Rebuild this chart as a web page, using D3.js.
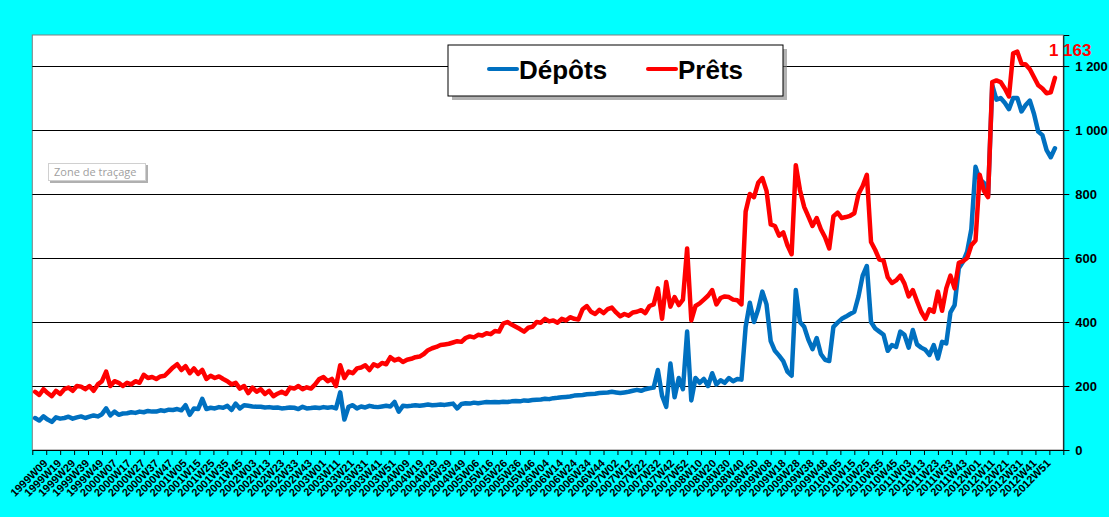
<!DOCTYPE html>
<html>
<head>
<meta charset="utf-8">
<script src="https://cdn.jsdelivr.net/npm/d3@7"></script>
<style>
body { margin: 0; background: #00ffff; }
svg { display: block; font-family: "Liberation Sans", Arial, sans-serif; }
</style>
</head>
<body>
<svg id="chart"></svg>
<script>
var screen = {width: 1109, height: 517};
var plot = {left: 32.3, right: 1063.3, top: 35, bottom: 450};

// week labels shown every 10 weeks (week index 10, 20, ... 730)
var tickLabels = [
  "1999W09","1999W19","1999W29","1999W39","1999W49",
  "2000W07","2000W17","2000W27","2000W37","2000W47",
  "2001W05","2001W15","2001W25","2001W35","2001W45",
  "2002W03","2002W13","2002W23","2002W33","2002W43",
  "2003W01","2003W11","2003W21","2003W31","2003W41","2003W51",
  "2004W09","2004W19","2004W29","2004W39","2004W49",
  "2005W06","2005W16","2005W26","2005W36","2005W46",
  "2006W04","2006W14","2006W24","2006W34","2006W44",
  "2007W02","2007W12","2007W22","2007W32","2007W42","2007W52",
  "2008W10","2008W20","2008W30","2008W40","2008W50",
  "2009W08","2009W18","2009W28","2009W38","2009W48",
  "2010W05","2010W15","2010W25","2010W35","2010W45",
  "2011W03","2011W13","2011W23","2011W33","2011W43",
  "2012W01","2012W11","2012W21","2012W31","2012W41","2012W51"
];
var weekCount = 740;     // axis length in weeks (from 1998W52)
var firstWeek = 2;       // week index of first value
var weekStep = 3;        // values read every 3 weeks

var seriesNames = ["Dépôts", "Prêts"];

var depots = [
  100,92,105,95,88,102,98,100,104,98,
  102,105,100,104,108,105,112,130,108,120,
  110,114,115,118,116,120,118,122,120,120,
  124,122,126,125,128,124,140,110,130,128,
  160,128,132,130,134,132,138,125,145,130,
  140,138,136,135,135,133,134,132,133,130,
  131,133,132,128,135,130,131,133,131,134,
  132,134,130,180,95,135,140,130,136,133,
  138,135,134,136,138,136,150,120,138,137,
  138,140,138,140,142,140,141,142,141,143,
  145,130,144,146,145,148,146,148,150,149,
  150,149,151,150,152,153,152,155,154,156,
  157,158,160,159,162,163,165,166,167,170,
  171,172,174,175,176,178,179,180,182,180,
  178,180,182,185,188,185,190,193,195,250,
  170,135,270,165,225,190,370,155,225,210,
  222,200,240,205,218,210,225,215,222,220,
  385,460,400,440,495,455,340,310,295,278,
  245,232,500,400,385,345,315,350,300,282,
  278,385,398,410,417,425,432,480,545,575,
  400,380,370,360,310,328,322,370,360,320,
  375,330,320,313,297,328,286,338,333,430,
  453,568,588,620,690,885,845,835,795,1140,
  1095,1100,1085,1065,1100,1100,1058,1078,1092,1050,
  995,984,937,915,943
];

var prets = [
  182,172,190,178,168,185,175,190,195,185,
  200,198,190,200,185,205,215,245,200,215,
  210,200,210,205,215,210,235,225,228,222,
  230,232,245,258,268,250,262,240,255,238,
  250,222,232,225,230,222,215,205,210,192,
  200,178,195,182,190,175,185,168,176,182,
  175,195,192,200,190,196,192,205,222,228,
  215,222,200,265,225,245,240,255,258,265,
  250,268,262,272,268,290,280,285,275,282,
  285,290,292,300,312,318,322,328,330,332,
  336,340,338,350,355,352,360,358,365,362,
  372,370,395,400,392,385,378,370,382,385,
  400,398,410,402,405,398,410,405,415,410,
  408,440,450,432,425,438,428,440,445,430,
  418,425,420,430,432,437,428,450,455,505,
  410,525,448,478,453,470,630,405,450,458,
  470,482,500,455,475,480,478,470,468,455,
  745,800,790,835,850,810,705,700,670,680,
  640,612,890,812,760,730,700,725,690,665,
  630,730,742,725,728,732,740,800,825,860,
  650,625,595,592,540,522,530,545,520,480,
  500,465,432,410,440,432,495,435,505,545,
  505,585,590,600,640,655,860,810,790,1150,
  1155,1150,1130,1105,1240,1245,1208,1205,1190,1165,
  1140,1130,1115,1118,1163
];

var yTicks = [0, 200, 400, 600, 800, 1000, 1200];
var yMax = 1297;
var colors = ["#0070c0", "#ff0000"];

var fr = d3.formatLocale({decimal: ",", thousands: " ", grouping: [3], currency: ["", " €"]});
var fmt = fr.format(",");

var svg = d3.select("#chart")
    .attr("width", screen.width)
    .attr("height", screen.height);

svg.append("rect")
    .attr("width", screen.width).attr("height", screen.height)
    .attr("fill", "#00ffff");

var xScale = d3.scaleLinear().domain([0, weekCount]).range([plot.left, plot.right]);
var yScale = d3.scaleLinear().domain([0, yMax]).range([plot.bottom, plot.top]);

// plot area
svg.append("rect")
    .attr("x", plot.left).attr("y", plot.top)
    .attr("width", plot.right - plot.left)
    .attr("height", plot.bottom - plot.top)
    .attr("fill", "#ffffff")
    .attr("stroke", "#808080")
    .attr("stroke-width", 1);

// gridlines
svg.append("g")
    .selectAll("line")
    .data(yTicks.filter(function(d) { return d > 0; }))
    .enter().append("line")
    .attr("x1", plot.left).attr("x2", plot.right)
    .attr("y1", function(d) { return Math.round(yScale(d)) + 0.5; })
    .attr("y2", function(d) { return Math.round(yScale(d)) + 0.5; })
    .attr("stroke", "#000").attr("stroke-width", 1);

// right value axis
var yAxis = d3.axisRight(yScale)
    .tickValues(yTicks)
    .tickFormat(fmt)
    .tickSize(6)
    .tickPadding(6);

var yg = svg.append("g")
    .attr("transform", "translate(" + plot.right + ",0)")
    .call(yAxis);
yg.select(".domain").attr("stroke", "#000");
yg.selectAll("text")
    .attr("font-size", 13)
    .attr("font-weight", "bold")
    .attr("fill", "#000")
    .attr("font-family", "'Liberation Sans', Arial, sans-serif");

// bottom category axis
var tickWeeks = d3.range(0, weekCount + 1, 10);
var xAxis = d3.axisBottom(xScale)
    .tickValues(tickWeeks)
    .tickFormat("")
    .tickSize(5)
    .tickSizeOuter(0);

var xg = svg.append("g")
    .attr("transform", "translate(0," + plot.bottom + ")")
    .call(xAxis);
xg.select(".domain").attr("stroke", "#000");

svg.append("g")
    .selectAll("text")
    .data(tickLabels)
    .enter().append("text")
    .attr("transform", function(d, i) {
        return "translate(" + (xScale((i + 1) * 10) + 2) + "," + (plot.bottom + 14) + ") rotate(-45)";
    })
    .attr("text-anchor", "end")
    .attr("font-size", 11)
    .attr("font-weight", "bold")
    .attr("fill", "#000")
    .text(function(d) { return d; });

// series lines
var line = d3.line()
    .x(function(d, i) { return xScale(firstWeek + i * weekStep); })
    .y(function(d) { return yScale(d); })
    .curve(d3.curveLinear);

[depots, prets].forEach(function(values, s) {
    svg.append("path")
        .datum(values)
        .attr("d", line)
        .attr("fill", "none")
        .attr("stroke", colors[s])
        .attr("stroke-width", 4.5)
        .attr("stroke-linejoin", "round")
        .attr("stroke-linecap", "round");
});

// last value label
var lastIdx = prets.length - 1;
svg.append("text")
    .attr("x", xScale(firstWeek + lastIdx * weekStep) - 6)
    .attr("y", 56)
    .attr("font-size", 17)
    .attr("font-weight", "bold")
    .attr("fill", "#ff0000")
    .text(fmt(prets[lastIdx]));

// legend
var legend = svg.append("g").attr("transform", "translate(448,45)");
legend.append("rect")
    .attr("x", 4).attr("y", 4)
    .attr("width", 335).attr("height", 51)
    .attr("fill", "#7f7f7f").attr("opacity", 0.6);
legend.append("rect")
    .attr("x", 0).attr("y", 0)
    .attr("width", 335).attr("height", 51)
    .attr("fill", "#ffffff").attr("stroke", "#000").attr("stroke-width", 1);

var legendX = [41, 200];
seriesNames.forEach(function(name, s) {
    legend.append("line")
        .attr("x1", legendX[s]).attr("x2", legendX[s] + 28)
        .attr("y1", 24).attr("y2", 24)
        .attr("stroke", colors[s]).attr("stroke-width", 4)
        .attr("stroke-linecap", "round");
    legend.append("text")
        .attr("x", legendX[s] + 30)
        .attr("y", 34)
        .attr("font-size", 26)
        .attr("font-weight", "bold")
        .attr("fill", "#000")
        .text(name);
});

// Excel hover tip
var tip = svg.append("g").attr("transform", "translate(48,163)");
tip.append("rect")
    .attr("x", 2).attr("y", 2).attr("width", 98).attr("height", 18)
    .attr("fill", "#b0b0b0");
tip.append("rect")
    .attr("x", 0.5).attr("y", 0.5).attr("width", 97).attr("height", 17)
    .attr("fill", "#ffffff").attr("stroke", "#d0d0d0");
tip.append("text")
    .attr("x", 6).attr("y", 13)
    .attr("font-size", 11)
    .attr("font-family", "'Open Sans', sans-serif")
    .attr("fill", "#a0a0a0")
    .text("Zone de traçage");
</script>
</body>
</html>
